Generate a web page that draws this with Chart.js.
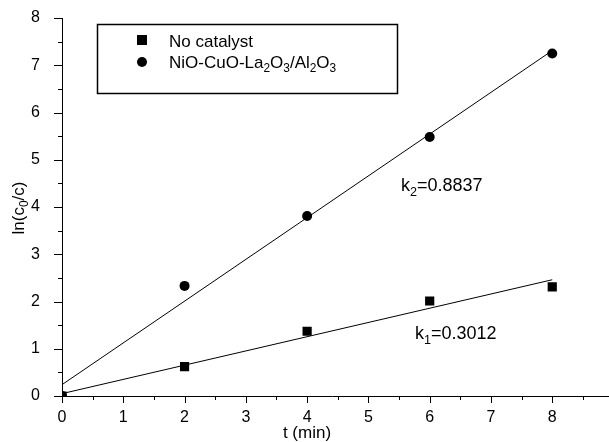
<!DOCTYPE html>
<html lang="en">
<head>
<meta charset="UTF-8">
<title>ln(c0/c) vs t</title>
<script src="https://cdn.jsdelivr.net/npm/chart.js"></script>
<style>
body {margin: 0; background: #fff;}
#wrap {width: 609px; height: 442px;}
</style>
</head>
<body>
<div id="wrap"><canvas id="myChart" width="609" height="442"></canvas></div>
<script>
// data
const times = [0, 2, 4, 6, 8];
const noCatalyst = [0, 0.62, 1.37, 2.01, 2.31];
const nioCuo = [0, 2.33, 3.81, 5.48, 7.25];
// fitted straight lines (end points)
const fitTimes = [0, 8];
const fit1 = [0.05, 2.46];
const fit2 = [0.24, 7.31];
const xTicks = [0, 1, 2, 3, 4, 5, 6, 7, 8];
const yTicks = [0, 1, 2, 3, 4, 5, 6, 7, 8];

const FONT = '"Liberation Sans", Arial, sans-serif';

function pts(xs, ys) {
  return xs.map((x, i) => ({x: x, y: ys[i]}));
}

// draws text pieces; pieces marked sub are smaller and lowered
function drawRich(ctx, parts, x, y, size) {
  let cx = x;
  parts.forEach(p => {
    const s = p.sub ? size * 0.7 : size;
    ctx.font = s + 'px ' + FONT;
    ctx.fillText(p.t, cx, p.sub ? y + size * 0.25 : y);
    cx += ctx.measureText(p.t).width;
  });
}

const extras = {
  id: 'extras',
  afterDraw(chart) {
    const ctx = chart.ctx;
    const xs = chart.scales.x, ys = chart.scales.y;
    const left = chart.chartArea.left, bottom = chart.chartArea.bottom;
    ctx.save();
    ctx.strokeStyle = '#000';
    ctx.fillStyle = '#000';
    ctx.lineWidth = 1;
    ctx.beginPath();
    // x axis runs on to the right edge of the picture
    ctx.moveTo(chart.chartArea.right, bottom + 0.5);
    ctx.lineTo(chart.width, bottom + 0.5);
    // tick marks, major and minor, pointing out of the plot
    for (let v = 0; v <= xs.max; v += 0.5) {
      const px = Math.round(xs.getPixelForValue(v)) + 0.5;
      const len = Number.isInteger(v) ? 7 : 4;
      ctx.moveTo(px, bottom);
      ctx.lineTo(px, bottom + len);
    }
    for (let v = 0; v <= 8; v += 0.5) {
      const py = Math.round(ys.getPixelForValue(v)) + 0.5;
      const len = Number.isInteger(v) ? 8 : 4;
      ctx.moveTo(left, py);
      ctx.lineTo(left - len, py);
    }
    ctx.stroke();

    ctx.textBaseline = 'alphabetic';
    // axis titles
    ctx.font = '17px ' + FONT;
    ctx.textAlign = 'center';
    ctx.fillText('t (min)', 307, 438);
    ctx.save();
    ctx.translate(24, 208);
    ctx.rotate(-Math.PI / 2);
    ctx.textAlign = 'left';
    const yt = [{t: 'ln(c'}, {t: '0', sub: true}, {t: '/c)'}];
    let w = 0;
    yt.forEach(p => { ctx.font = (p.sub ? 17 * 0.7 : 17) + 'px ' + FONT; w += ctx.measureText(p.t).width; });
    drawRich(ctx, yt, -w / 2, 0, 17);
    ctx.restore();

    // rate constant labels
    ctx.textAlign = 'left';
    drawRich(ctx, [{t: 'k'}, {t: '2', sub: true}, {t: '=0.8837'}], 401, 191, 18);
    drawRich(ctx, [{t: 'k'}, {t: '1', sub: true}, {t: '=0.3012'}], 415, 339, 18);

    // legend box
    ctx.lineWidth = 1.5;
    ctx.strokeRect(97.5, 24.5, 300, 69);
    ctx.fillRect(137, 35, 10, 10);
    ctx.beginPath();
    ctx.arc(142, 62, 5, 0, Math.PI * 2);
    ctx.fill();
    drawRich(ctx, [{t: 'No catalyst'}], 169, 47, 17);
    drawRich(ctx, [{t: 'NiO-CuO-La'}, {t: '2', sub: true}, {t: 'O'}, {t: '3', sub: true},
      {t: '/Al'}, {t: '2', sub: true}, {t: 'O'}, {t: '3', sub: true}], 169, 68, 17);
    ctx.restore();
  }
};

new Chart(document.getElementById('myChart'), {
  type: 'scatter',
  data: {
    datasets: [
      {
        label: 'No catalyst',
        data: pts(times, noCatalyst),
        pointStyle: 'rect',
        pointRadius: 6.5,
        backgroundColor: '#000',
        borderColor: '#000',
        borderWidth: 0,
        clip: 0
      },
      {
        label: 'NiO-CuO-La2O3/Al2O3',
        data: pts(times, nioCuo),
        pointStyle: 'circle',
        pointRadius: 5,
        backgroundColor: '#000',
        borderColor: '#000',
        borderWidth: 0,
        clip: 0
      },
      {
        type: 'line',
        data: pts(fitTimes, fit1),
        borderColor: '#000',
        borderWidth: 1,
        pointRadius: 0,
        showLine: true
      },
      {
        type: 'line',
        data: pts(fitTimes, fit2),
        borderColor: '#000',
        borderWidth: 1,
        pointRadius: 0,
        showLine: true
      }
    ]
  },
  options: {
    responsive: false,
    animation: false,
    events: [],
    layout: {padding: {top: 18, right: 0, left: 0, bottom: 0}},
    plugins: {legend: {display: false}, tooltip: {enabled: false}},
    scales: {
      x: {
        type: 'linear',
        bounds: 'data',
        min: 0,
        max: 8.82,
        grid: {display: false},
        border: {display: true, color: '#000', width: 1},
        afterBuildTicks: s => { s.ticks = xTicks.map(v => ({value: v})); },
        afterFit: s => { s.height = 46; s.paddingLeft = 0; s.paddingRight = 0; },
        ticks: {color: '#000', padding: 4, maxRotation: 0, font: {family: FONT, size: 16}}
      },
      y: {
        type: 'linear',
        bounds: 'data',
        min: 0,
        max: 8,
        grid: {display: false},
        border: {display: true, color: '#000', width: 1},
        afterBuildTicks: s => { s.ticks = yTicks.map(v => ({value: v})); },
        afterFit: s => { s.width = 62; s.paddingTop = 0; s.paddingBottom = 0; },
        ticks: {color: '#000', padding: 14, font: {family: FONT, size: 16}}
      }
    }
  },
  plugins: [extras]
});
</script>
</body>
</html>
